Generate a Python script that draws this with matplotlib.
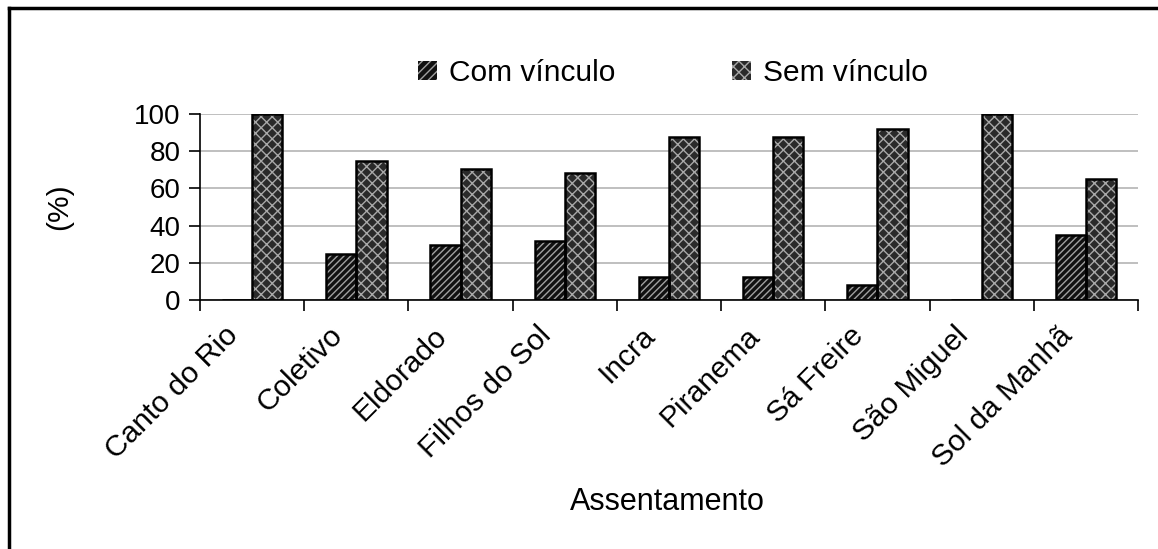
import matplotlib.pyplot as plt
import matplotlib.patches as mpatches
import matplotlib.transforms as mtransforms
import numpy as np

plt.rcParams['font.family'] = ['Liberation Sans', 'DejaVu Sans']

assentamentos = ["Canto do Rio", "Coletivo", "Eldorado", "Filhos do Sol", "Incra",
                 "Piranema", "Sá Freire", "São Miguel", "Sol da Manhã"]
com_vinculo = [0, 25, 29.4, 31.6, 12.5, 12.5, 8.3, 0, 35]
sem_vinculo = [100, 75, 70.6, 68.4, 87.5, 87.5, 91.7, 100, 65]

fig = plt.figure(figsize=(11.58, 5.49), dpi=100)
ax = fig.add_axes([200 / 1158, 249 / 549, 938 / 1158, 186 / 549])

x = np.arange(len(assentamentos))
w = 0.29

# hatch fill, then a black outline on top
ax.bar(x - w / 2, com_vinculo, w, color="#111111", edgecolor="#a0a0a0",
       hatch="/////", linewidth=0, zorder=2)
ax.bar(x - w / 2, com_vinculo, w, fill=False, edgecolor="black", linewidth=1.8, zorder=3)
ax.bar(x + w / 2, sem_vinculo, w, color="#2a2a2a", edgecolor="#a8a8a8",
       hatch="xxx", linewidth=0, zorder=2)
ax.bar(x + w / 2, sem_vinculo, w, fill=False, edgecolor="black", linewidth=1.8, zorder=3)

ax.set_xlim(-0.5, len(assentamentos) - 0.5)
ax.set_ylim(0, 100)
ax.set_yticks([0, 20, 40, 60, 80, 100])
ax.yaxis.grid(True, color="#b4b4b4", linewidth=1.2, zorder=0)
ax.set_axisbelow(True)

ax.set_xticks(x)
ax.set_xticklabels(assentamentos, rotation=45, ha="right", va="top",
                   rotation_mode="anchor", fontsize=21.5)
ax.set_xticks(np.arange(len(assentamentos) + 1) - 0.5, minor=True)
ax.tick_params(axis="x", which="major", length=0, pad=14)
ax.tick_params(axis="x", which="minor", length=8, width=1.2, direction="out")
ax.tick_params(axis="y", length=8, width=1.2, direction="out", labelsize=20, pad=6)

# shift the rotated labels a bit left like the original
shift = mtransforms.ScaledTranslation(-28 / 100, -2 / 100, fig.dpi_scale_trans)
for lab in ax.get_xticklabels():
    lab.set_transform(lab.get_transform() + shift)

for s in ["top", "right"]:
    ax.spines[s].set_visible(False)
ax.spines["left"].set_linewidth(1.2)
ax.spines["bottom"].set_linewidth(1.2)

ax.set_ylabel("(%)", fontsize=21.5)
ax.yaxis.set_label_coords(-127 / 938, 0.5)
fig.text(667 / 1158, 1 - 502 / 549, "Assentamento", fontsize=22, ha="center", va="center")

handles = [
    mpatches.Patch(facecolor="#111111", edgecolor="#a0a0a0", hatch="////", linewidth=0),
    mpatches.Patch(facecolor="#2a2a2a", edgecolor="#a8a8a8", hatch="xxx", linewidth=0),
]
fig.legend(handles, ["Com vínculo", "Sem vínculo"], loc="center",
           bbox_to_anchor=(673 / 1158, 1 - 73 / 549), ncol=2, frameon=False,
           fontsize=21.5, handlelength=0.65, handleheight=0.65, handletextpad=0.4,
           columnspacing=3.9)

# outer frame (only top and left visible in the original crop)
fig.add_artist(plt.Line2D([9 / 1158, 9 / 1158], [0, 1 - 8 / 549], color="black", lw=2.5))
fig.add_artist(plt.Line2D([9 / 1158, 1], [1 - 8 / 549, 1 - 8 / 549], color="black", lw=2.5))

fig.savefig("out.png", dpi=100, facecolor="white")
